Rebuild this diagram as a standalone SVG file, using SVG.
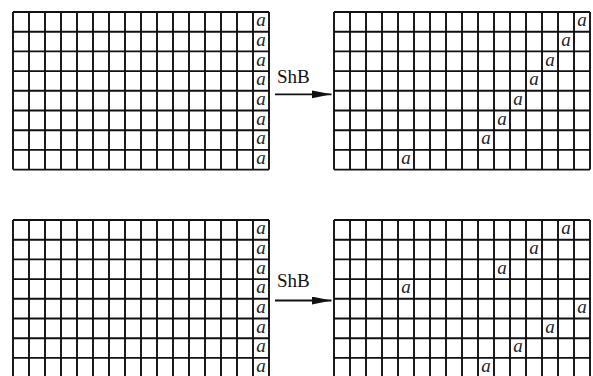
<svg xmlns="http://www.w3.org/2000/svg" width="593" height="376" viewBox="0 0 593 376">
<style>
.grid{fill:none;stroke:#111;stroke-width:1.9}
.a{font-family:"Liberation Serif","Times New Roman",serif;font-style:italic;font-size:19px;fill:#222;text-anchor:middle}
.lbl{font-family:"Liberation Serif","Times New Roman",serif;font-size:19px;fill:#111}
.arr{stroke:#111;stroke-width:1.8;fill:none}
</style>
<defs>
<marker id="ah" markerUnits="userSpaceOnUse" markerWidth="22" markerHeight="10" refX="20" refY="4" orient="auto">
<path d="M0,0 L20,4 L0,8 Z" fill="#111"/>
</marker>
<path id="gridpath" d="M0,0V157.6M16,0V157.6M32,0V157.6M48,0V157.6M64,0V157.6M80,0V157.6M96,0V157.6M112,0V157.6M128,0V157.6M144,0V157.6M160,0V157.6M176,0V157.6M192,0V157.6M208,0V157.6M224,0V157.6M240,0V157.6M256,0V157.6M0,0H256M0,19.7H256M0,39.4H256M0,59.1H256M0,78.8H256M0,98.5H256M0,118.2H256M0,137.9H256M0,157.6H256"/>
</defs>
<rect width="593" height="376" fill="#fff"/>
<g id="grid-top-left">
<use href="#gridpath" class="grid" x="13" y="12"/>
<text class="a" x="261" y="26.2">a</text>
<text class="a" x="261" y="45.9">a</text>
<text class="a" x="261" y="65.6">a</text>
<text class="a" x="261" y="85.3">a</text>
<text class="a" x="261" y="105">a</text>
<text class="a" x="261" y="124.7">a</text>
<text class="a" x="261" y="144.4">a</text>
<text class="a" x="261" y="164.1">a</text>
</g>
<g id="grid-top-right">
<use href="#gridpath" class="grid" x="334" y="12"/>
<text class="a" x="582" y="26.2">a</text>
<text class="a" x="566" y="45.9">a</text>
<text class="a" x="550" y="65.6">a</text>
<text class="a" x="534" y="85.3">a</text>
<text class="a" x="518" y="105">a</text>
<text class="a" x="502" y="124.7">a</text>
<text class="a" x="486" y="144.4">a</text>
<text class="a" x="406" y="164.1">a</text>
</g>
<g id="grid-bottom-left">
<use href="#gridpath" class="grid" x="13" y="220"/>
<text class="a" x="261" y="234.2">a</text>
<text class="a" x="261" y="253.9">a</text>
<text class="a" x="261" y="273.6">a</text>
<text class="a" x="261" y="293.3">a</text>
<text class="a" x="261" y="313">a</text>
<text class="a" x="261" y="332.7">a</text>
<text class="a" x="261" y="352.4">a</text>
<text class="a" x="261" y="372.1">a</text>
</g>
<g id="grid-bottom-right">
<use href="#gridpath" class="grid" x="334" y="220"/>
<text class="a" x="566" y="234.2">a</text>
<text class="a" x="534" y="253.9">a</text>
<text class="a" x="502" y="273.6">a</text>
<text class="a" x="406" y="293.3">a</text>
<text class="a" x="582" y="313">a</text>
<text class="a" x="550" y="332.7">a</text>
<text class="a" x="518" y="352.4">a</text>
<text class="a" x="486" y="372.1">a</text>
</g>
<g id="connectors">
<path class="arr" d="M275,94.3H331.5" marker-end="url(#ah)"/>
<text class="lbl" x="277" y="82.7">ShB</text>
<path class="arr" d="M275,300.5H331.5" marker-end="url(#ah)"/>
<text class="lbl" x="277" y="286.7">ShB</text>
</g>
</svg>
